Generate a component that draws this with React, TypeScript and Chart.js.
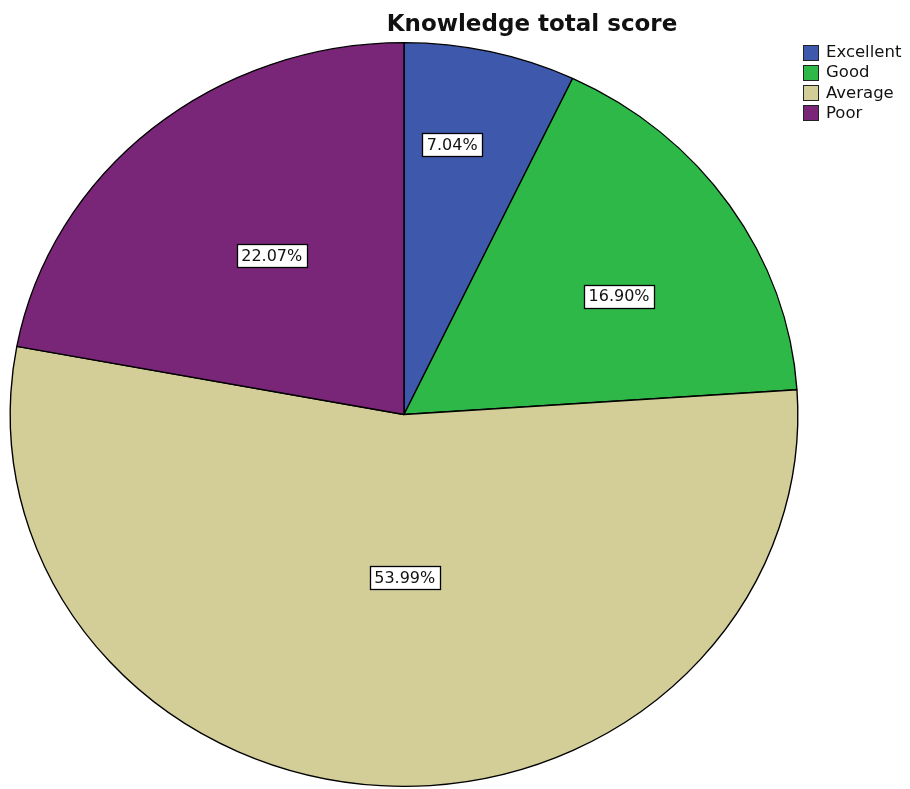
import React, { useEffect, useRef } from "react";
import { Chart, registerables } from "chart.js";

Chart.register(...registerables);

const TITLE = "Knowledge total score";
const CATEGORIES = ["Excellent", "Good", "Average", "Poor"];
const PERCENTS = [7.04, 16.9, 53.99, 22.07];
const COLORS = ["#3e58ac", "#2eb848", "#d3ce97", "#7a2678"];
// label placement (fraction of radius, angle nudge in degrees)
const LABEL_RADIUS = [0.736, 0.632, 0.439, 0.544];
const LABEL_NUDGE = [-3.1, 4.0, -3.6, 1.6];

const SX = 394 / 372; // horizontal stretch of the pie into an ellipse

const ellipsePlugin = {
  id: "ellipse",
  beforeDatasetsDraw(chart: any) {
    const arc = chart.getDatasetMeta(0).data[0];
    if (!arc) return;
    const ctx = chart.ctx;
    ctx.save();
    ctx.translate(arc.x, arc.y);
    ctx.scale(SX, 1);
    ctx.translate(-arc.x, -arc.y);
  },
  afterDatasetsDraw(chart: any) {
    chart.ctx.restore();
  },
};

const decorPlugin = {
  id: "decor",
  afterDraw(chart: any) {
    const ctx = chart.ctx;
    const meta = chart.getDatasetMeta(0);
    // slice labels
    ctx.save();
    ctx.font = "16px 'DejaVu Sans'";
    ctx.textAlign = "center";
    ctx.textBaseline = "middle";
    meta.data.forEach((arc: any, i: number) => {
      const p = arc.getProps(["x", "y", "startAngle", "endAngle", "outerRadius"], true);
      const mid = (p.startAngle + p.endAngle) / 2 + (LABEL_NUDGE[i] * Math.PI) / 180;
      const r = p.outerRadius * LABEL_RADIUS[i];
      const x = p.x + Math.cos(mid) * r * SX;
      const y = p.y + Math.sin(mid) * r;
      const text = PERCENTS[i].toFixed(2) + "%";
      const w = ctx.measureText(text).width + 9;
      const h = 23;
      ctx.fillStyle = "#ffffff";
      ctx.fillRect(Math.round(x - w / 2) + 0.5, Math.round(y - h / 2) + 0.5, Math.round(w), h);
      ctx.strokeStyle = "#000000";
      ctx.lineWidth = 1.3;
      ctx.strokeRect(Math.round(x - w / 2) + 0.5, Math.round(y - h / 2) + 0.5, Math.round(w), h);
      ctx.fillStyle = "#111111";
      ctx.fillText(text, x, y + 1);
    });
    ctx.restore();

    // title
    ctx.save();
    ctx.font = "bold 23px 'DejaVu Sans'";
    ctx.fillStyle = "#111111";
    ctx.textAlign = "center";
    ctx.textBaseline = "alphabetic";
    ctx.fillText(TITLE, 532, 31);
    ctx.restore();

    // legend
    ctx.save();
    ctx.font = "16.5px 'DejaVu Sans'";
    ctx.textAlign = "left";
    ctx.textBaseline = "middle";
    CATEGORIES.forEach((c, i) => {
      const cy = 52 + i * 20.2;
      ctx.fillStyle = COLORS[i];
      ctx.fillRect(803.5, Math.round(cy - 7.5) + 0.5, 15, 15);
      ctx.strokeStyle = "#222222";
      ctx.lineWidth = 1;
      ctx.strokeRect(803.5, Math.round(cy - 7.5) + 0.5, 15, 15);
      ctx.fillStyle = "#111111";
      ctx.fillText(c, 826, cy + 1);
    });
    ctx.restore();
  },
};

export default function App() {
  const ref = useRef<HTMLCanvasElement | null>(null);
  useEffect(() => {
    if (!ref.current) return;
    const chart = new Chart(ref.current, {
      type: "pie",
      data: {
        labels: CATEGORIES,
        datasets: [
          {
            data: PERCENTS,
            backgroundColor: COLORS,
            borderColor: "#000000",
            borderWidth: 1.3,
            clip: false,
          } as any,
        ],
      },
      options: {
        responsive: false,
        animation: false,
        layout: { padding: { left: 24, right: 126, top: 42, bottom: 2 } },
        plugins: {
          legend: { display: false },
          title: { display: false },
          tooltip: { enabled: false },
        },
      },
      plugins: [ellipsePlugin, decorPlugin],
    });
    return () => chart.destroy();
  }, []);
  return (
    <div style={{ position: "absolute", left: 0, top: 0, width: 910, height: 789, background: "#fff" }}>
      <canvas ref={ref} width={910} height={789} style={{ display: "block" }} />
    </div>
  );
}
